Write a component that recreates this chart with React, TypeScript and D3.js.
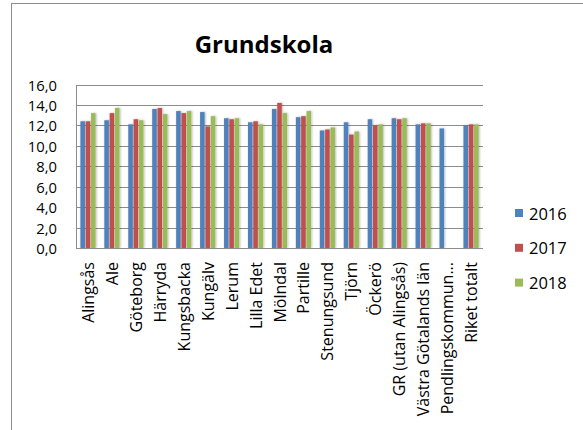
import { useEffect, useRef } from "react";
import * as d3 from "d3";

const categories = [
  "Alingsås",
  "Ale",
  "Göteborg",
  "Härryda",
  "Kungsbacka",
  "Kungälv",
  "Lerum",
  "Lilla Edet",
  "Mölndal",
  "Partille",
  "Stenungsund",
  "Tjörn",
  "Öckerö",
  "GR (utan Alingsås)",
  "Västra Götalands län",
  "Pendlingskommun...",
  "Riket totalt",
];

const years = ["2016", "2017", "2018"];

const values2016 = [12.4, 12.5, 12.1, 13.6, 13.4, 13.3, 12.7, 12.3, 13.6, 12.8, 11.5, 12.3, 12.6, 12.7, 12.1, 11.7, 12.0];
const values2017 = [12.4, 13.2, 12.6, 13.7, 13.2, 11.9, 12.6, 12.4, 14.2, 12.9, 11.6, 11.1, 12.0, 12.6, 12.2, null, 12.1];
const values2018 = [13.2, 13.7, 12.5, 13.1, 13.4, 12.9, 12.7, 12.1, 13.2, 13.4, 11.8, 11.4, 12.1, 12.7, 12.2, null, 12.1];

const yTicks = [0, 2, 4, 6, 8, 10, 12, 14, 16];

const COLORS: Record<string, string> = {
  "2016": "#4f81bd",
  "2017": "#c0504d",
  "2018": "#9bbb59",
};

const FONT = "'Open Sans', sans-serif";

export default function App() {
  const ref = useRef<SVGSVGElement>(null);

  useEffect(() => {
    if (!ref.current) return;
    const W = 583;
    const H = 430;
    const plot = { left: 76, right: 483, top: 84.5, bottom: 248 };
    const series = [values2016, values2017, values2018];

    const svg = d3.select(ref.current);
    svg.selectAll("*").remove();
    svg.attr("width", W).attr("height", H).attr("viewBox", `0 0 ${W} ${H}`);

    const defs = svg.append("defs");
    const f = defs.append("filter").attr("id", "shadow").attr("x", "-50%").attr("y", "-10%").attr("width", "200%").attr("height", "120%");
    f.append("feDropShadow").attr("dx", 0.8).attr("dy", 0).attr("stdDeviation", 1.1).attr("flood-color", "#000").attr("flood-opacity", 0.3);

    svg.append("rect").attr("width", W).attr("height", H).attr("fill", "#fff");
    // chart frame (runs off the right and bottom edges)
    svg
      .append("rect")
      .attr("x", 11.5)
      .attr("y", 3.5)
      .attr("width", W + 10)
      .attr("height", H + 10)
      .attr("fill", "none")
      .attr("stroke", "#8c8c8c")
      .attr("stroke-width", 1);

    svg
      .append("text")
      .attr("x", 264)
      .attr("y", 43)
      .attr("text-anchor", "middle")
      .attr("dominant-baseline", "central")
      .attr("font-family", FONT)
      .attr("font-weight", 700)
      .attr("font-size", 24)
      .attr("fill", "#000")
      .text("Grundskola");

    const x = d3
      .scaleBand<string>()
      .domain(categories)
      .range([plot.left, plot.right])
      .paddingInner(1 / 3)
      .paddingOuter(1 / 6);
    const xs = d3.scaleBand<string>().domain(years).range([0, x.bandwidth()]);
    const y = d3.scaleLinear().domain([0, 16]).range([plot.bottom, plot.top]);

    // gridlines
    svg
      .append("g")
      .selectAll("line")
      .data(yTicks)
      .join("line")
      .attr("x1", plot.left)
      .attr("x2", plot.right)
      .attr("y1", (d) => Math.round(y(d)) + 0.5)
      .attr("y2", (d) => Math.round(y(d)) + 0.5)
      .attr("stroke", "#8c8c8c")
      .attr("stroke-width", 1);

    // bars
    years.forEach((yr, si) => {
      const rows = categories
        .map((c, i) => ({ c, v: series[si][i] }))
        .filter((d) => d.v != null) as { c: string; v: number }[];
      svg
        .append("g")
        .attr("filter", "url(#shadow)")
        .selectAll("rect")
        .data(rows)
        .join("rect")
        .attr("x", (d) => x(d.c)! + xs(yr)! + 0.4)
        .attr("y", (d) => y(d.v))
        .attr("width", xs.bandwidth() - 0.8)
        .attr("height", (d) => y(0) - y(d.v))
        .attr("fill", COLORS[yr]);
    });

    // axis lines
    svg
      .append("line")
      .attr("x1", plot.left + 0.5)
      .attr("x2", plot.left + 0.5)
      .attr("y1", Math.round(plot.top))
      .attr("y2", plot.bottom + 0.5)
      .attr("stroke", "#8c8c8c");
    svg
      .append("line")
      .attr("x1", plot.left)
      .attr("x2", plot.right)
      .attr("y1", plot.bottom + 0.5)
      .attr("y2", plot.bottom + 0.5)
      .attr("stroke", "#8c8c8c");

    // y tick labels
    svg
      .append("g")
      .selectAll("text")
      .data(yTicks)
      .join("text")
      .attr("x", 57)
      .attr("y", (d) => y(d))
      .attr("text-anchor", "end")
      .attr("dominant-baseline", "central")
      .attr("font-family", FONT)
      .attr("font-size", 14.8)
      .attr("fill", "#000")
      .text((d) => d3.format(".1f")(d).replace(".", ","));

    // category labels
    svg
      .append("g")
      .selectAll("text")
      .data(categories)
      .join("text")
      .attr("transform", (d) => `translate(${x(d)! + x.bandwidth() / 2},262) rotate(-90)`)
      .attr("text-anchor", "end")
      .attr("dominant-baseline", "central")
      .attr("font-family", FONT)
      .attr("font-size", 16)
      .attr("fill", "#000")
      .text((d) => d);

    // legend
    const lg = svg.append("g");
    years.forEach((yr, i) => {
      const cy = 213 + i * 34.8;
      lg.append("rect").attr("x", 515).attr("y", cy - 4).attr("width", 8).attr("height", 8).attr("fill", COLORS[yr]);
      lg.append("text")
        .attr("x", 529)
        .attr("y", cy)
        .attr("dominant-baseline", "central")
        .attr("font-family", FONT)
        .attr("font-size", 16.5)
        .attr("fill", "#000")
        .text(yr);
    });
  }, []);

  return <svg ref={ref} style={{ position: "absolute", left: 0, top: 0 }} />;
}
